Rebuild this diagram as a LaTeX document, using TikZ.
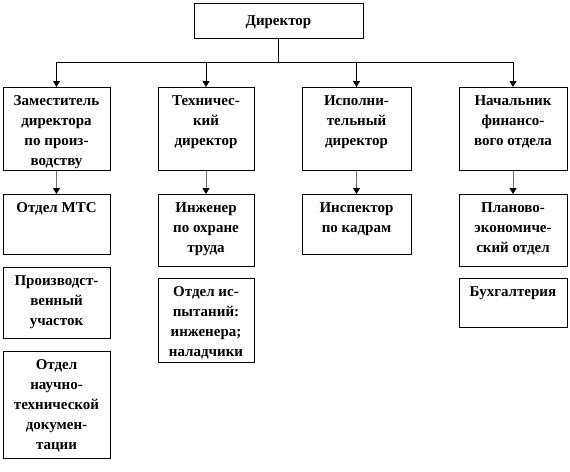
\documentclass[tikz,border=0pt]{standalone}
\usepackage{fontspec}
\setmainfont{Liberation Serif}
\usetikzlibrary{arrows.meta}
\newcommand\cell[3]{\parbox[c][#2][t]{#1}{\centering\rule{0pt}{17.5pt}#3\par}}
\newcommand\colA{56.5}
\newcommand\colB{206}
\newcommand\colC{356.5}
\newcommand\colD{513}
\newcommand\busY{62}
\newcommand\topRow{87}
\newcommand\subRow{194}

\begin{document}
\begin{tikzpicture}[x=1pt,y=-1pt,
    font=\bfseries\fontsize{15}{20}\selectfont,
    box/.style={draw, line width=1pt, inner sep=0pt, anchor=north},
    link/.style={line width=1pt, -{Triangle[width=7pt,length=6pt]}},
    sublink/.style={line width=1pt, draw=black!55, -{Triangle[width=7pt,length=6pt,color=black]}}]
    \useasboundingbox (0,0) rectangle (570,471);

    %% director
    \node[box, anchor=center, minimum width=169pt, minimum height=35pt, text height=9pt, text depth=0pt] (dir) at (278.5,20.5) {Директор};
    \coordinate (bus) at (278.5,\busY);

    %% first row
    \node[box] (zam) at (\colA,\topRow) {\cell{107pt}{83pt}{Заместитель\\директора\\по произ-\\водству}};
    \node[box] (tech) at (\colB,\topRow) {\cell{96pt}{83pt}{Техничес-\\кий\\директор}};
    \node[box] (isp) at (\colC,\topRow) {\cell{109pt}{83pt}{Исполни-\\тельный\\директор}};
    \node[box] (fin) at (\colD,\topRow) {\cell{108pt}{83pt}{Начальник\\финансо-\\вого отдела}};

    %% second row
    \node[box] (mts) at (\colA,\subRow) {\cell{107pt}{60pt}{Отдел МТС}};
    \node[box] (uch) at (\colA,267) {\cell{107pt}{71pt}{Производст-\\венный\\участок}};
    \node[box] (ntd) at (\colA,351) {\cell{107pt}{107pt}{Отдел\\научно-\\технической\\докумен-\\тации}};
    \node[box] (ohr) at (\colB,\subRow) {\cell{96pt}{72pt}{Инженер\\по охране\\труда}};
    \node[box] (isn) at (\colB,278) {\cell{96pt}{84pt}{Отдел ис-\\пытаний:\\инженера;\\наладчики}};
    \node[box] (kadr) at (\colC,\subRow) {\cell{109pt}{60pt}{Инспектор\\по кадрам}};
    \node[box] (plan) at (\colD,\subRow) {\cell{108pt}{72pt}{Планово-\\экономиче-\\ский отдел}};
    \node[box] (buh) at (\colD,278) {\cell{108pt}{49pt}{Бухгалтерия}};

    %% arrows
    \draw[line width=1pt] (dir) -- (bus);
    \foreach \nm in {zam,tech,isp,fin}{
      \draw[link] (bus) -| (\nm);
    }
    \foreach \a/\b in {zam/mts,tech/ohr,isp/kadr,fin/plan}{
      \draw[sublink] (\a) -- (\b);
    }

  \end{tikzpicture}
\end{document}
